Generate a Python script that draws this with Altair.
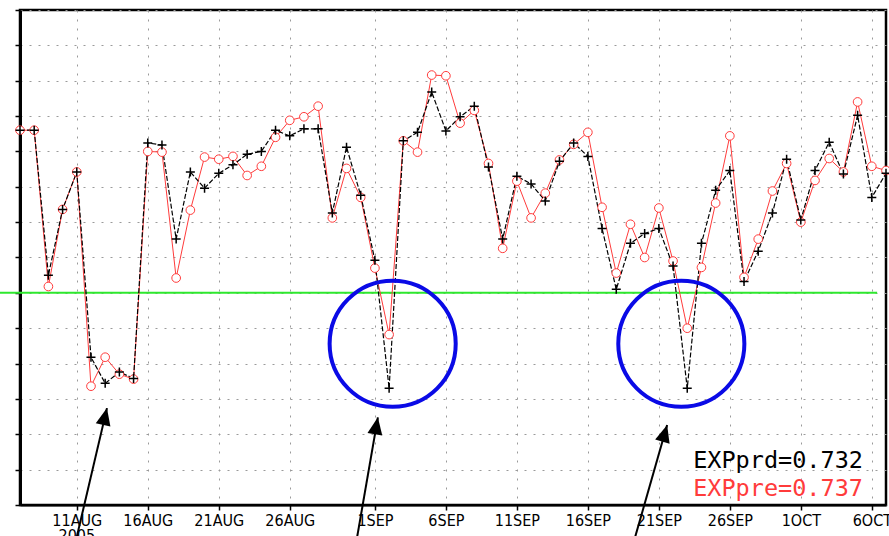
import altair as alt
import pandas as pd

# Daily verification scores, 7 Aug - 7 Oct 2005
dates = [d.strftime("%Y-%m-%d") for d in pd.date_range("2005-08-07", "2005-10-07", freq="D")]

exp_prd = [
    0.830, 0.830, 0.625, 0.718, 0.771, 0.509, 0.472, 0.488, 0.479, 0.812,
    0.809, 0.676, 0.771, 0.748, 0.769, 0.781, 0.796, 0.800, 0.830, 0.822,
    0.832, 0.832, 0.713, 0.806, 0.738, 0.646, 0.465, 0.815, 0.827, 0.884,
    0.829, 0.849, 0.864, 0.778, 0.676, 0.765, 0.754, 0.730, 0.786, 0.812,
    0.793, 0.691, 0.605, 0.670, 0.684, 0.691, 0.638, 0.465, 0.670, 0.745,
    0.773, 0.616, 0.659, 0.713, 0.789, 0.703, 0.773, 0.813, 0.768, 0.851,
    0.735, 0.769,
]
exp_pre = [
    0.830, 0.830, 0.609, 0.718, 0.771, 0.468, 0.509, 0.485, 0.478, 0.800,
    0.799, 0.621, 0.717, 0.792, 0.789, 0.793, 0.766, 0.779, 0.820, 0.844,
    0.849, 0.864, 0.706, 0.776, 0.735, 0.635, 0.541, 0.815, 0.799, 0.908,
    0.907, 0.840, 0.858, 0.783, 0.663, 0.758, 0.706, 0.741, 0.788, 0.810,
    0.827, 0.721, 0.628, 0.697, 0.650, 0.720, 0.645, 0.550, 0.636, 0.727,
    0.822, 0.622, 0.676, 0.744, 0.783, 0.700, 0.759, 0.790, 0.771, 0.870,
    0.779, 0.773,
]

y_ticks = [0.30, 0.35, 0.40, 0.45, 0.50, 0.55, 0.60, 0.65,
           0.70, 0.75, 0.80, 0.85, 0.90, 0.95, 1.00]
x_tick_days = [(8, 11), (8, 16), (8, 21), (8, 26), (9, 1), (9, 6),
               (9, 11), (9, 16), (9, 21), (9, 26), (10, 1), (10, 6)]

threshold = 0.6
threshold_span = ["2005-08-05T14:00:00Z", "2005-10-06T09:00:00Z"]

# highlighted drop-outs
ring_x = ["2005-09-02T06:00:00Z", "2005-09-22T14:00:00Z"]
ring_y = [0.528, 0.528]

# arrows (tail -> head)
arrow_x0 = ["2005-08-11T00:00:00Z", "2005-08-30T18:00:00Z", "2005-09-19T08:00:00Z"]
arrow_y0 = [0.255, 0.255, 0.255]
arrow_x1 = ["2005-08-13T03:00:00Z", "2005-09-01T05:00:00Z", "2005-09-21T14:00:00Z"]
arrow_y1 = [0.437, 0.424, 0.413]
arrow_angle = [13, 10, 16]

score_labels = ["EXPprd=0.732", "EXPpre=0.737"]
score_colors = ["#000000", "#ff3b3b"]
score_y = [0.353, 0.313]
score_x = "2005-09-23T10:00:00Z"

RED = "#ff3b3b"
LABEL_FONT = "Liberation Sans Narrow, DejaVu Sans Condensed, Liberation Sans, sans-serif"

series = pd.DataFrame({"date": [d + "T00:00:00Z" for d in dates],
                       "prd": exp_prd, "pre": exp_pre})

x_scale = alt.Scale(
    type="utc",
    domain=[alt.DateTime(year=2005, month=8, date=7, utc=True),
            alt.DateTime(year=2005, month=10, date=7, utc=True)],
)
y_scale = alt.Scale(domain=[0.3, 1.0], zero=False, nice=False)

x_axis = alt.Axis(
    values=[alt.DateTime(year=2005, month=m, date=d, utc=True) for m, d in x_tick_days],
    labelExpr="upper(utcFormat(datum.value, '%-d%b'))",
    title=None, grid=True, tickSize=5, labelPadding=2, domainWidth=2,
    labelFont=LABEL_FONT, labelFontSize=16, labelColor="black",
    labelOverlap=False, labelFlush=False,
)
y_axis = alt.Axis(values=y_ticks, labels=False, title=None, grid=True,
                  tickSize=5, domainWidth=3)


def X(field, **kw):
    return alt.X(field, type="temporal", scale=x_scale, axis=x_axis, **kw)


def Y(field, **kw):
    return alt.Y(field, type="quantitative", scale=y_scale, axis=y_axis, **kw)


base = alt.Chart(series)

green = alt.Chart(pd.DataFrame({"x0": [threshold_span[0]], "x1": [threshold_span[1]],
                                "y": [threshold]})).mark_rule(
    color="#2ee82e", strokeWidth=2
).encode(x=X("x0"), x2="x1", y=Y("y"))

red_line = base.mark_line(color=RED, strokeWidth=1).encode(x=X("date"), y=Y("pre"))
black_line = base.mark_line(color="black", strokeWidth=1.2, strokeDash=[5, 2]).encode(
    x=X("date"), y=Y("prd"))
red_pts = base.mark_point(shape="circle", size=75, filled=True, fill="white",
                          stroke=RED, strokeWidth=1, opacity=1).encode(
    x=X("date"), y=Y("pre"))
black_pts = base.mark_point(shape="M-1,0L1,0M0,-1L0,1", size=81, stroke="black",
                            strokeWidth=1.5, opacity=1).encode(
    x=X("date"), y=Y("prd"))

rings = alt.Chart(pd.DataFrame({"x": ring_x, "y": ring_y})).mark_point(
    shape="circle", size=15900, stroke="#0a0ae6", strokeWidth=4, opacity=1
).encode(x=X("x"), y=Y("y"))

arrows_df = pd.DataFrame({"x0": arrow_x0, "y0": arrow_y0, "x1": arrow_x1,
                          "y1": arrow_y1, "angle": arrow_angle})
arrow_shafts = alt.Chart(arrows_df).mark_rule(color="black", strokeWidth=2).encode(
    x=X("x0"), y=Y("y0"), x2="x1", y2="y1")
arrow_heads = alt.Chart(arrows_df).mark_point(
    shape="M0,0L-0.5,1.15L0.5,1.15Z", size=900, filled=True, color="black", opacity=1
).encode(x=X("x1"), y=Y("y1"),
         angle=alt.Angle("angle:Q", scale=None))

scores = alt.Chart(pd.DataFrame({"x": [score_x, score_x], "y": score_y,
                                 "label": score_labels, "c": score_colors})).mark_text(
    align="left", baseline="alphabetic", font="DejaVu Sans Mono", fontSize=23.5
).encode(x=X("x"), y=Y("y"), text="label:N", color=alt.Color("c:N", scale=None))

year = alt.Chart(pd.DataFrame({"x": ["2005-08-11T00:00:00Z"], "y": [0.268],
                               "t": ["2005"]})).mark_text(
    align="center", baseline="top", font=LABEL_FONT, fontSize=16, color="black"
).encode(x=X("x"), y=Y("y"), text="t:N")

chart = alt.layer(
    green, red_line, black_line, red_pts, black_pts, rings,
    arrow_shafts, arrow_heads, scores, year,
).properties(
    width=866, height=495,
    padding={"left": 20, "top": 10, "right": 3, "bottom": 31},
    autosize=alt.AutoSizeParams(type="none"),
).configure_view(
    stroke="black", strokeWidth=2.5
).configure_axis(
    domainColor="black", tickColor="black", tickWidth=1.5,
    gridColor="#9a9a9a", gridDash=[2, 7], gridWidth=1,
)

chart.save("out.html", embed_options={"renderer": "svg", "actions": False})
